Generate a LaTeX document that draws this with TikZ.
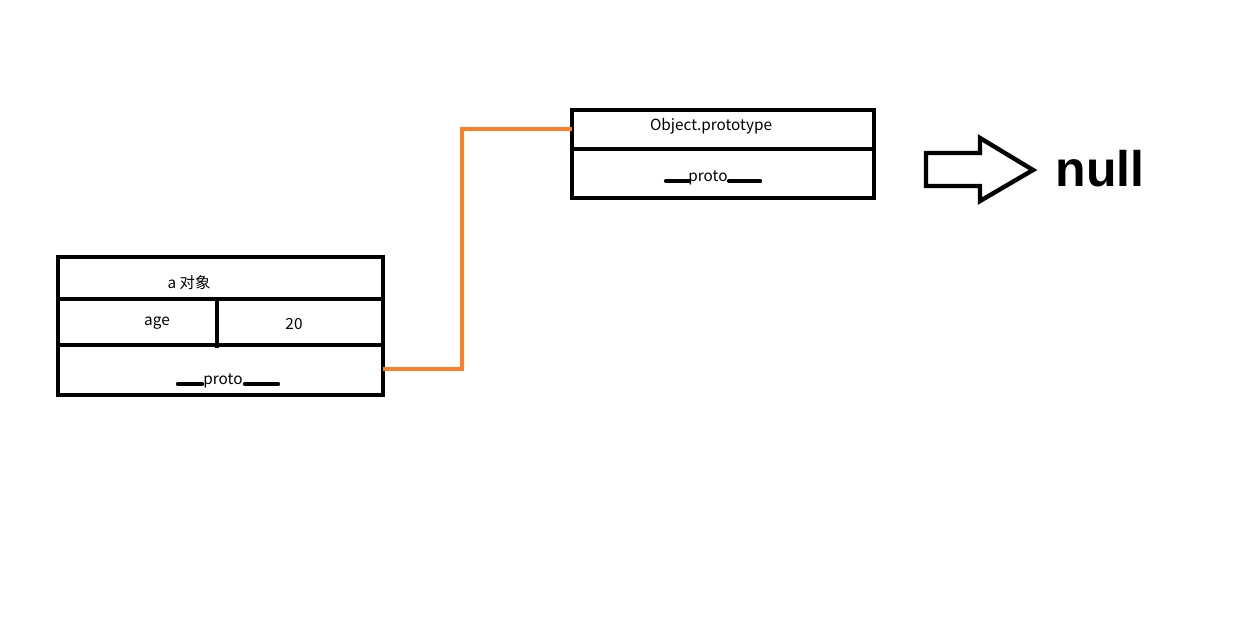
\documentclass[tikz,border=0pt]{standalone}
\usepackage{fontspec}
\setmainfont{Noto Sans CJK SC}
\newfontfamily\boldnullfont{Liberation Sans}
\definecolor{linkorange}{RGB}{255,127,39}
\begin{document}
\begin{tikzpicture}[x=0.75pt,y=-0.75pt,
  box/.style={draw=black,line width=3.3pt},
  sep/.style={draw=black,line width=3.3pt},
  bar/.style={draw=black,line width=3.3pt,line cap=round},
  lbl/.style={inner sep=0pt,font=\fontsize{11.5pt}{13pt}\selectfont},
  link/.style={draw=linkorange,line width=3.3pt}]
\useasboundingbox (0,0) rectangle (1242,624);
% left object
\draw[box] (58,257) rectangle (383,395);
\draw[sep] (58,299) -- (383,299);
\draw[sep] (58,345) -- (383,345);
\draw[sep] (217,299) -- (217,348);
\node[lbl] (atitle) at (189,283) {a 对象};
\node[lbl] (age) at (157,323) {age};
\node[lbl] (val) at (294,324) {20};
\node[lbl] (aproto) at (223,381) {proto};
\draw[bar] (178,384) -- (202,384);
\draw[bar] (245,384) -- (278,384);
\coordinate (aout) at (383,369);
% prototype object
\draw[box] (572,110) rectangle (874,198);
\draw[sep] (572,149) -- (874,149);
\node[lbl] (otitle) at (711,126) {Object.prototype};
\node[lbl] (oproto) at (708,178) {proto};
\draw[bar] (666,181) -- (689,181);
\draw[bar] (729,181) -- (760,181);
\coordinate (oin) at (572,129);
% link
\draw[link] (aout) -- (462,369) -- (462,129) -- (oin);
% block arrow
\draw[black,line width=3.3pt,line join=miter]
  (926,153) -- (980,153) -- (980,138) -- (1033,170) -- (980,201) -- (980,186) -- (926,186) -- cycle;
\node[inner sep=0pt,font=\boldnullfont\bfseries\fontsize{37.5pt}{40pt}\selectfont] (null) at (1100,169) {null};
\end{tikzpicture}
\end{document}
